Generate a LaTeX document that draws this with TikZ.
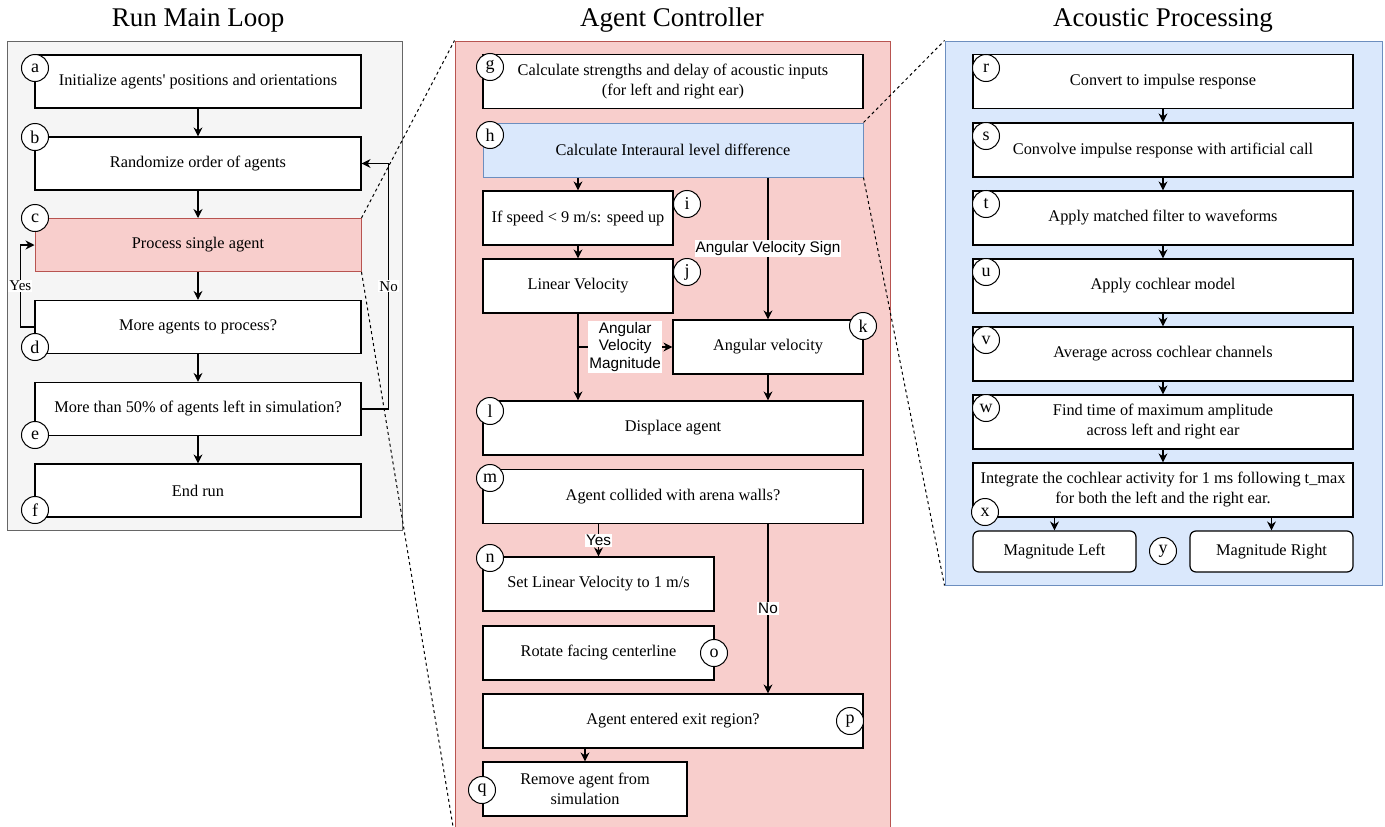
\documentclass[tikz,border=0pt]{standalone}
\usepackage{fontspec}
\setmainfont{Liberation Serif}
\newfontfamily\labelsans{Liberation Sans}
\usetikzlibrary{arrows.meta}

\definecolor{loopfill}{HTML}{F5F5F5}
\definecolor{loopline}{HTML}{666666}
\definecolor{ctrlfill}{HTML}{F8CECC}
\definecolor{ctrlline}{HTML}{B85450}
\definecolor{acufill}{HTML}{DAE8FC}
\definecolor{aculine}{HTML}{6C8EBF}

\tikzset{
  stepbox/.style={draw, fill=white, line width=1.2pt, inner sep=2pt, align=center,
    font=\fontsize{16.3}{20}\selectfont},
  tag/.style={draw, circle, fill=white, line width=1pt, minimum size=27pt, inner sep=0pt,
    font=\fontsize{18}{18}\selectfont},
  flow/.style={line width=1.2pt, -{Stealth[length=9pt,width=9pt]}},
  zoomline/.style={dashed, line width=1pt},
  title/.style={font=\fontsize{27}{31}\selectfont},
  sidelbl/.style={fill=white, inner sep=1pt, font=\fontsize{15}{17}\selectfont},
  sanslbl/.style={fill=white, inner sep=1pt, align=center, font=\labelsans\fontsize{15.3}{17.5}\selectfont},
  frame/.style={draw, line width=1pt, inner sep=0pt}
}

\begin{document}
\begin{tikzpicture}[x=1pt,y=-1pt]
\useasboundingbox (0,0) rectangle (1385,827);

% panels
\node[frame, draw=loopline, fill=loopfill, minimum width=395pt, minimum height=489pt] (loopframe) at (204.5,285.5) {};
\node[frame, draw=ctrlline, fill=ctrlfill, minimum width=435pt, minimum height=794pt] (ctrlframe) at (672.5,438) {};
\node[frame, draw=aculine, fill=acufill, minimum width=437pt, minimum height=544pt] (acuframe) at (1163.5,313) {};

\node[title] (looptitle) at (198,20) {Run Main Loop};
\node[title] (ctrltitle) at (672,20) {Agent Controller};
\node[title] (acutitle) at (1163,20) {Acoustic Processing};

% run main loop
\begin{scope}[every node/.append style={minimum width=326pt, minimum height=53pt}]
\node[stepbox] (a) at (198,81.5) {Initialize agents\textquotesingle\ positions and orientations};
\node[stepbox] (b) at (198,163.5) {Randomize order of agents};
\node[stepbox, draw=ctrlline, fill=ctrlfill, line width=1pt] (c) at (198,245) {Process single agent};
\node[stepbox] (d) at (198,327) {More agents to process?};
\node[stepbox] (e) at (198,409) {More than 50\% of agents left in simulation?};
\node[stepbox] (f) at (198,490.5) {End run};
\end{scope}

\foreach \from/\to in {a/b,b/c,c/d,d/e,e/f}
  \draw[flow] (\from) -- (\to);
\draw[flow] (d.west) -- ++(-14,0) |- node[pos=0.25, sidelbl] (yes1) {Yes} (c.west);
\draw[flow] (e.east) -- ++(27,0) |- node[pos=0.25, sidelbl] (no1) {No} (b.east);

\node[tag] (tag-a) at (35,68) {a};
\node[tag] (tag-b) at (35,137) {b};
\node[tag] (tag-c) at (35,218) {c};
\node[tag] (tag-d) at (35,347) {d};
\node[tag] (tag-e) at (35,435) {e};
\node[tag] (tag-f) at (35,510) {f};

% agent controller
\begin{scope}[every node/.append style={minimum height=54pt}]
\node[stepbox, minimum width=380pt] (g) at (673,81.5) {Calculate strengths and delay of acoustic inputs\\(for left and right ear)};
\node[stepbox, draw=aculine, fill=acufill, line width=1pt, minimum width=380pt] (h) at (673,150) {Calculate Interaural level difference};
\node[stepbox, minimum width=190pt] (i) at (578,218) {If speed < 9 m/s: speed up};
\node[stepbox, minimum width=190pt] (j) at (578,286) {Linear Velocity};
\node[stepbox, minimum width=190pt] (k) at (768,347) {Angular velocity};
\node[stepbox, minimum width=380pt] (l) at (673,428) {Displace agent};
\node[stepbox, minimum width=380pt] (m) at (673,496.5) {Agent collided with arena walls?};
\node[stepbox, minimum width=231pt] (n) at (598.5,584) {Set Linear Velocity to 1 m/s};
\node[stepbox, minimum width=231pt] (o) at (598.5,653) {Rotate facing centerline};
\node[stepbox, minimum width=380pt] (p) at (673,721) {Agent entered exit region?};
\node[stepbox, minimum width=204pt] (q) at (585,789) {Remove agent from\\simulation};
\end{scope}

\draw[flow] (h.south -| i.north) -- (i.north);
\draw[flow] (i) -- (j);
\draw[flow] (h.south -| k.north) -- node[sanslbl] (sign) {Angular Velocity Sign} (k.north);
\draw[flow] (j.south) -- (j.south |- l.north);
\draw[flow] (j.south |- k.west) -- node[sanslbl] (magn) {Angular\\Velocity\\Magnitude} (k.west);
\draw[flow] (k.south) -- (k.south |- l.north);
\draw[flow] (m.south -| n.north) -- node[sanslbl] (yes2) {Yes} (n.north);
\draw[flow] (m.south -| k.south) -- node[sanslbl] (no2) {No} (p.north -| k.south);
\draw[flow] (p.south -| q.north) -- (q.north);

\node[tag] (tag-g) at (490,67) {g};
\node[tag] (tag-h) at (490,135) {h};
\node[tag] (tag-i) at (687,204) {i};
\node[tag] (tag-j) at (687,272) {j};
\node[tag] (tag-k) at (863,326) {k};
\node[tag] (tag-l) at (490,411) {l};
\node[tag] (tag-m) at (490,478) {m};
\node[tag] (tag-n) at (490,558) {n};
\node[tag] (tag-o) at (714,653) {o};
\node[tag] (tag-p) at (850,721) {p};
\node[tag] (tag-q) at (482,790) {q};

% acoustic processing
\begin{scope}[every node/.append style={minimum width=380pt, minimum height=54pt}]
\node[stepbox] (r) at (1163,81.5) {Convert to impulse response};
\node[stepbox] (s) at (1163,150) {Convolve impulse response with artificial call};
\node[stepbox] (t) at (1163,218) {Apply matched filter to waveforms};
\node[stepbox] (u) at (1163,286) {Apply cochlear model};
\node[stepbox] (v) at (1163,354) {Average across cochlear channels};
\node[stepbox] (w) at (1163,422) {Find time of maximum amplitude\\across left and right ear};
\node[stepbox] (x) at (1163,490) {Integrate the cochlear activity for 1 ms following t\_max\\for both the left and the right ear.};
\end{scope}
\node[stepbox, rounded corners=6pt, minimum width=163pt, minimum height=41pt] (magleft) at (1054.5,551.5) {Magnitude Left};
\node[stepbox, rounded corners=6pt, minimum width=163pt, minimum height=41pt] (magright) at (1271.5,551.5) {Magnitude Right};

\foreach \from/\to in {r/s,s/t,t/u,u/v,v/w,w/x}
  \draw[flow] (\from) -- (\to);
\draw[flow] (x.south -| magleft.north) -- (magleft.north);
\draw[flow] (x.south -| magright.north) -- (magright.north);

\node[tag] (tag-r) at (986,68) {r};
\node[tag] (tag-s) at (986,136) {s};
\node[tag] (tag-t) at (986,204) {t};
\node[tag] (tag-u) at (986,272) {u};
\node[tag] (tag-v) at (986,340) {v};
\node[tag] (tag-w) at (986,408) {w};
\node[tag] (tag-x) at (985,512) {x};
\node[tag] (tag-y) at (1163,551) {y};

% zoom lines
\draw[zoomline] (c.north east) -- (ctrlframe.north west);
\draw[zoomline] (c.south east) -- (ctrlframe.south west);
\draw[zoomline] (h.north east) -- (acuframe.north west);
\draw[zoomline] (h.south east) -- (acuframe.south west);
\end{tikzpicture}
\end{document}
